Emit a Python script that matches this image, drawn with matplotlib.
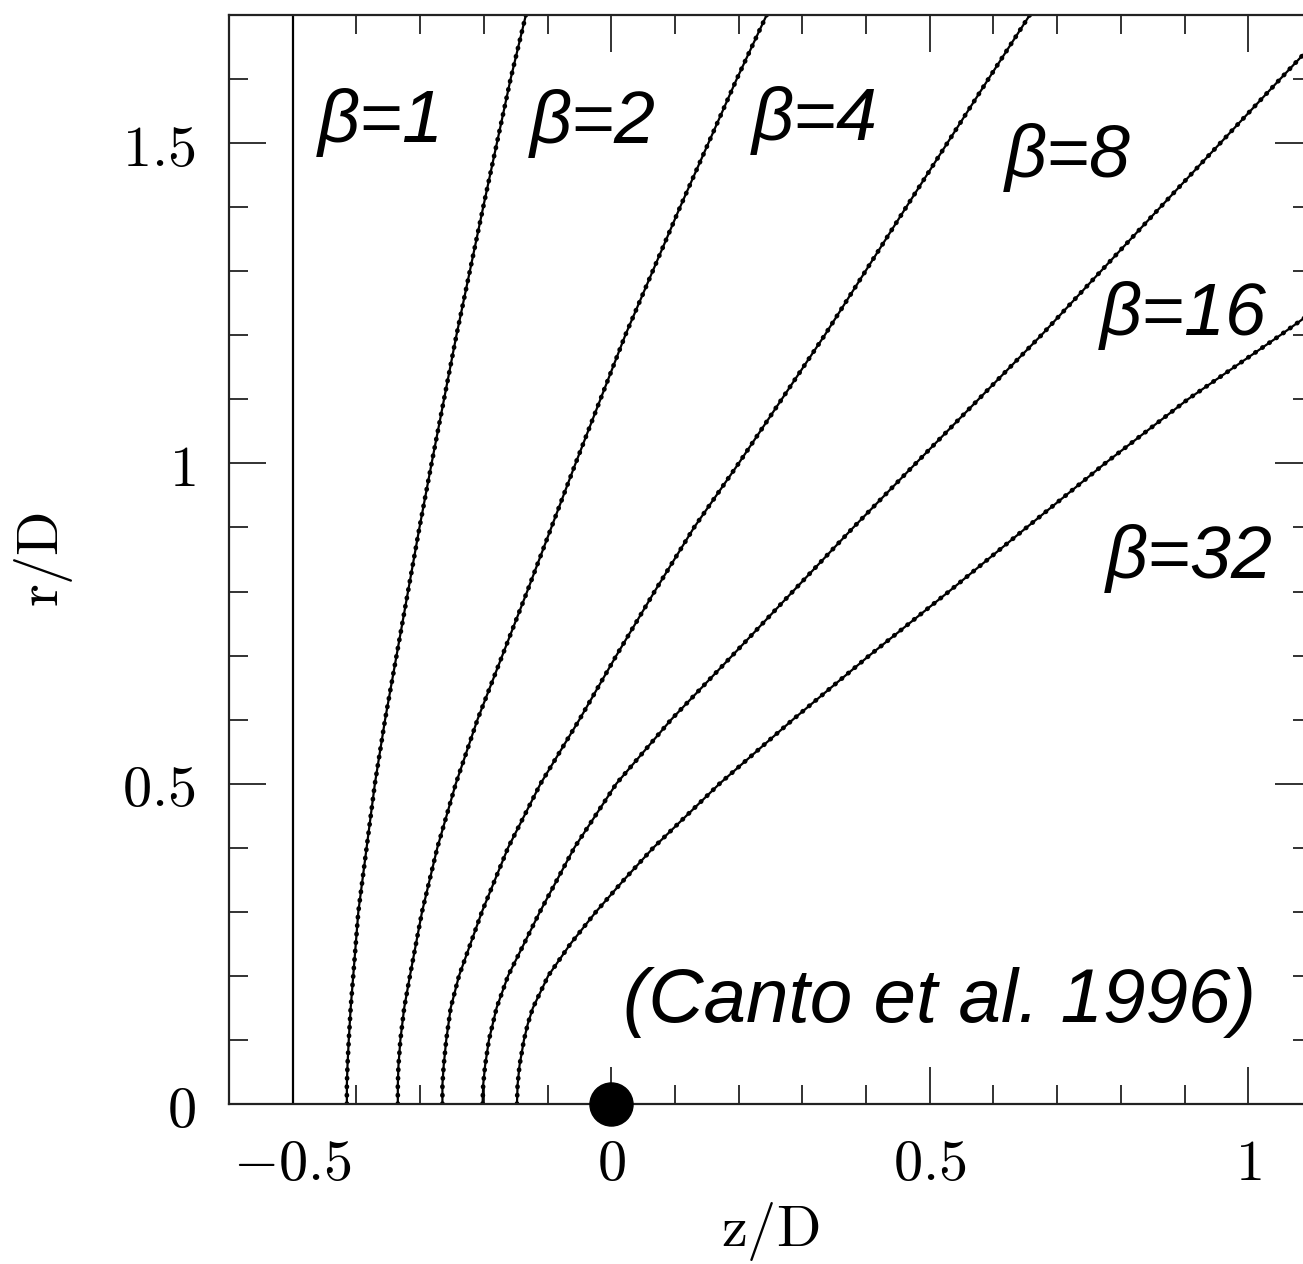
import matplotlib
matplotlib.use('Agg')
import matplotlib.pyplot as plt
from matplotlib.ticker import FixedLocator, MultipleLocator, FixedFormatter

plt.rcParams['mathtext.fontset'] = 'cm'

# ---------------- data ----------------
x_ticks = [-0.5, 0, 0.5, 1]
x_tick_labels = [r'$-0.5$', r'$0$', r'$0.5$', r'$1$']
y_ticks = [0, 0.5, 1, 1.5]
y_tick_labels = [r'$0$', r'$0.5$', r'$1$', r'$1.5$']

# beta = 1 : plane contact discontinuity
beta1_z = [-0.5, -0.5]
beta1_r = [0.0, 1.7]

r_grid = [0, 0.03, 0.06, 0.1, 0.15, 0.2, 0.3, 0.4, 0.5, 0.6, 0.7, 0.8,
          0.9, 1.0, 1.2, 1.4, 1.6, 1.7]
beta2_z = [-0.415, -0.415, -0.414, -0.412, -0.409, -0.405, -0.397, -0.384,
           -0.371, -0.355, -0.337, -0.319, -0.301, -0.282, -0.243, -0.201,
           -0.158, -0.134]
beta4_z = [-0.335, -0.335, -0.334, -0.331, -0.325, -0.316, -0.297, -0.273,
           -0.244, -0.210, -0.171, -0.132, -0.094, -0.056, 0.022, 0.108,
           0.197, 0.244]
beta8_z = [-0.265, -0.265, -0.263, -0.259, -0.252, -0.239, -0.203, -0.162,
           -0.111, -0.050, 0.008, 0.068, 0.130, 0.200, 0.335, 0.463, 0.592,
           0.657]
beta16_z = [-0.202, -0.201, -0.198, -0.192, -0.180, -0.162, -0.112, -0.058,
            0.008, 0.094, 0.190, 0.285, 0.380, 0.478, 0.675, 0.862, 1.050,
            1.145]
r32_grid = [0, 0.03, 0.06, 0.1, 0.125, 0.15, 0.2, 0.25, 0.3, 0.35, 0.4, 0.5,
            0.6, 0.7, 0.8, 0.9, 1.0, 1.1, 1.2, 1.3]
beta32_z = [-0.148, -0.147, -0.144, -0.137, -0.131, -0.123, -0.099, -0.064,
            -0.024, 0.020, 0.066, 0.170, 0.285, 0.405, 0.530, 0.652, 0.775,
            0.905, 1.050, 1.190]

star_z = [0.0]
star_r = [0.0]

labels = ['β=1', 'β=2', 'β=4', 'β=8', 'β=16', 'β=32']
label_z = [-0.461, -0.128, 0.220, 0.618, 0.767, 0.777]
label_r = [1.502, 1.500, 1.505, 1.447, 1.200, 0.821]
ref_text = '(Canto et al. 1996)'
ref_z, ref_r = 0.018, 0.128

# ---------------- figure ----------------
fig = plt.figure(figsize=(13.03, 12.64), dpi=100)
ax = fig.add_axes([229 / 1303, 160 / 1264, (1312 - 229) / 1303, (1249 - 160) / 1264])

ax.plot(beta1_z, beta1_r, color='black', lw=1.6, solid_capstyle='butt')

for zs, rs in [(beta2_z, r_grid), (beta4_z, r_grid), (beta8_z, r_grid),
               (beta16_z, r_grid), (beta32_z, r32_grid)]:
    ax.plot(zs, rs, color='black', lw=1.6, solid_joinstyle='round')
    ax.plot(zs, rs, color='black', lw=3.4, linestyle=(0, (0.1, 1.7)),
            dash_capstyle='round')

ax.plot(star_z, star_r, 'o', color='black', ms=31, clip_on=False, zorder=6)

for t, z, r in zip(labels, label_z, label_r):
    ax.text(z, r, t, fontsize=53, style='italic', family='Liberation Sans',
            ha='left', va='baseline')
ax.text(ref_z, ref_r, ref_text, fontsize=55, style='italic',
        family='Liberation Sans', ha='left', va='baseline')

ax.set_xlim(-0.6, 1.1)
ax.set_ylim(0, 1.7)

ax.xaxis.set_major_locator(FixedLocator(x_ticks))
ax.xaxis.set_major_formatter(FixedFormatter(x_tick_labels))
ax.yaxis.set_major_locator(FixedLocator(y_ticks))
ax.yaxis.set_major_formatter(FixedFormatter(y_tick_labels))
ax.xaxis.set_minor_locator(MultipleLocator(0.1))
ax.yaxis.set_minor_locator(MultipleLocator(0.1))

ax.tick_params(which='both', direction='in', top=True, right=True,
               width=1.3, color='#222222', labelsize=42)
ax.tick_params(which='major', length=26.5)
ax.tick_params(which='minor', length=13.5)
ax.tick_params(axis='x', which='major', pad=22)
ax.tick_params(axis='y', which='major', pad=24)

for sp in ax.spines.values():
    sp.set_linewidth(1.6)
    sp.set_color('#222222')

ax.set_xlabel(r'$\mathrm{z/D}$', fontsize=42)
ax.set_ylabel(r'$\mathrm{r/D}$', fontsize=42)
ax.xaxis.set_label_coords(0.5, -0.088)
ax.yaxis.set_label_coords(-0.142, 0.5)

fig.savefig('out.png', dpi=100)
